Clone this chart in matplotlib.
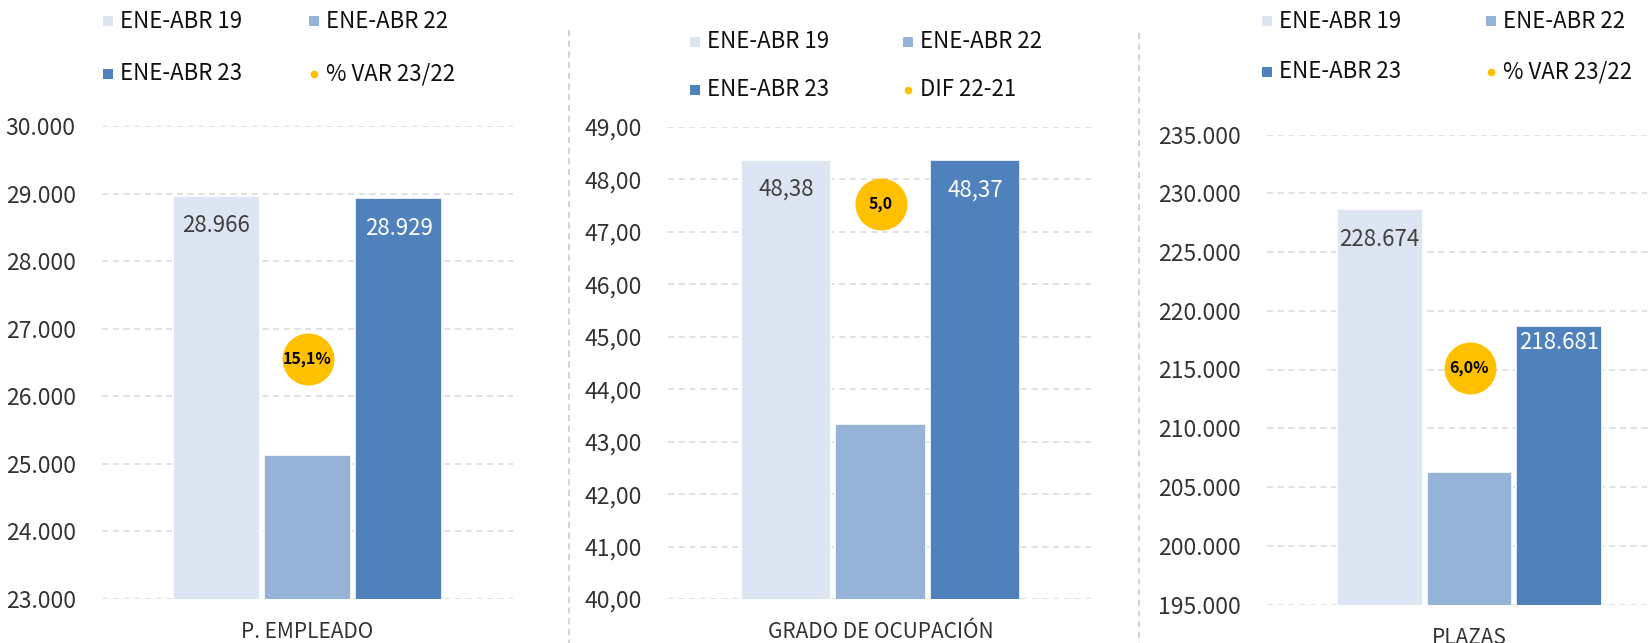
import matplotlib
matplotlib.use("Agg")
import matplotlib.pyplot as plt
import numpy as np
from matplotlib.lines import Line2D
from matplotlib.ticker import FuncFormatter

plt.rcParams['font.family'] = ['Noto Sans CJK JP', 'DejaVu Sans']

# data
categories = ["P. EMPLEADO", "GRADO DE OCUPACIÓN", "PLAZAS"]
series_names = ["ENE-ABR 19", "ENE-ABR 22", "ENE-ABR 23"]
ene_abr_19 = [28966, 48.38, 228674]
ene_abr_22 = [25130, 43.33, 206250]
ene_abr_23 = [28929, 48.37, 218681]
var_values = [15.1, 5.0, 6.0]
var_labels = ["15,1%", "5,0", "6,0%"]
var_names = ["% VAR 23/22", "DIF 22-21", "% VAR 23/22"]
y_limits = [(23000, 30000), (40, 49), (195000, 235000)]
y_steps = [1000, 1, 5000]

bar_colors = ["#DCE6F2", "#95B3D7", "#4F81BD"]
label_colors = ["#404040", None, "white"]
dot_color = "#FFC000"

W, H = 1652, 643
fig = plt.figure(figsize=(W / 100, H / 100), dpi=100)

# axes boxes in pixels: left, top, right, bottom
boxes = [(102, 126, 513, 599), (668, 127, 1093, 599), (1267, 134.5, 1672, 604.5)]
# secondary axis top so the dot sits like in the original
twin_tops = [29.7, 5.98, 11.9]
# legend: first marker x, second marker x, row1 y, row2 y
legend_pos = [(108, 314, 21, 74), (695, 908, 42, 90), (1267, 1491, 21, 72)]
# offset (pt) of the data labels below the bar top
label_offsets = [(21.5, 21.5), (21.5, 21.5), (22, 11.5)]


def fmt_thousands(v, pos=None):
    return f"{v:,.0f}".replace(",", ".")


def fmt_dec(v, pos=None):
    return f"{v:.2f}".replace(".", ",")


spacing = 0.222
width = 0.212
offsets = (np.arange(3) - 1) * spacing

for i, cat in enumerate(categories):
    l, t, r, b = boxes[i]
    ax = fig.add_axes([l / W, 1 - b / H, (r - l) / W, (b - t) / H])
    vals = [ene_abr_19[i], ene_abr_22[i], ene_abr_23[i]]
    lo, hi = y_limits[i]
    ax.set_ylim(lo, hi)
    ax.set_xlim(-0.5, 0.5)
    ax.set_yticks(np.arange(lo, hi + y_steps[i] / 2, y_steps[i]))
    ax.yaxis.set_major_formatter(FuncFormatter(fmt_dec if i == 1 else fmt_thousands))
    ax.grid(axis='y', ls=(0, (4, 3)), color="#D9D9D9", lw=1.1)
    ax.set_axisbelow(True)
    for s in ax.spines.values():
        s.set_visible(False)
    ax.tick_params(axis='y', length=0, pad=19, labelsize=16.5, labelcolor="#333333")
    ax.set_xticks([0])
    ax.set_xticklabels([cat])
    ax.tick_params(axis='x', length=0, pad=16, labelsize=15, labelcolor="#333333")

    for j in range(3):
        ax.bar(offsets[j], vals[j], width=width, bottom=0, color=bar_colors[j],
               edgecolor="white", lw=1.2, zorder=2)
        if label_colors[j] is not None:
            off = label_offsets[i][0] if j == 0 else label_offsets[i][1]
            txt = fmt_dec(vals[j]) if i == 1 else fmt_thousands(vals[j])
            ax.annotate(txt, (offsets[j], vals[j]), xytext=(0, -off),
                        textcoords='offset points', ha='center', va='center',
                        fontsize=16, color=label_colors[j], zorder=3)

    tw = ax.twinx()
    tw.set_ylim(0, twin_tops[i])
    tw.axis('off')
    tw.scatter([0], [var_values[i]], s=1400, color=dot_color, zorder=4, lw=0)
    tw.text(0, var_values[i], var_labels[i], ha='center', va='center',
            fontsize=11.5, fontweight='bold', color="black", zorder=5)

    # legend
    x1, x2, y1, y2 = legend_pos[i]
    entries = [(x1, y1, series_names[0], bar_colors[0], 's'),
               (x2, y1, series_names[1], bar_colors[1], 's'),
               (x1, y2, series_names[2], bar_colors[2], 's'),
               (x2, y2, var_names[i], dot_color, 'o')]
    for mx, my, lab, col, mk in entries:
        fig.add_artist(Line2D([mx / W], [1 - my / H], marker=mk, ls='none',
                              markersize=7 if mk == 's' else 5.5, color=col,
                              markeredgewidth=0, transform=fig.transFigure))
        fig.text((mx + 12) / W, 1 - my / H, lab, ha='left', va='center',
                 fontsize=16, color="#111111")

# dashed separators between the panels
for sx, sy in [(569, 30), (1139, 33)]:
    fig.add_artist(Line2D([sx / W, sx / W], [1 - sy / H, 0], ls=(0, (4, 3)),
                          color="#C8C8C8", lw=1.1, transform=fig.transFigure))

fig.savefig("out.png", dpi=100)
